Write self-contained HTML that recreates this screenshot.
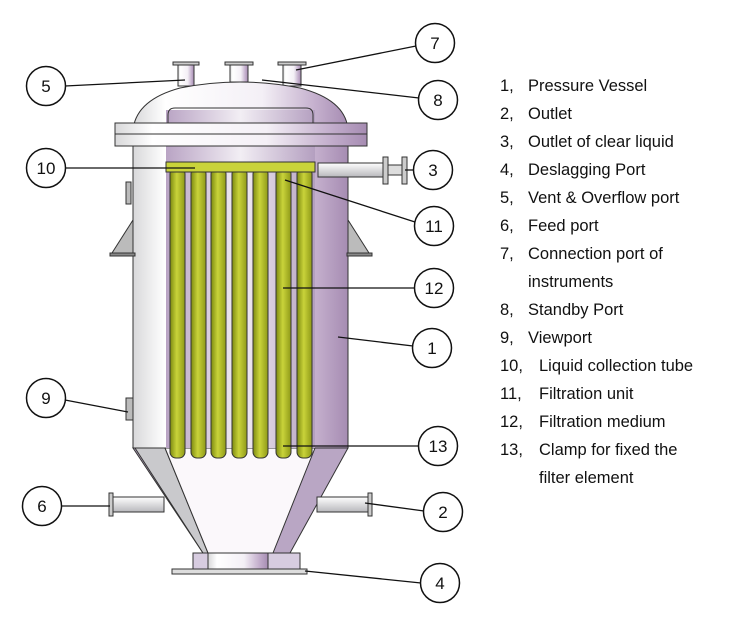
<!DOCTYPE html>
<html><head><meta charset="utf-8"><style>
body{margin:0;background:#fff;width:749px;height:625px;overflow:hidden;position:relative;font-family:"Liberation Sans",sans-serif}
.l{position:absolute;font-size:16.5px;color:#111;white-space:nowrap}
.n{position:absolute;left:500px}
</style></head><body>
<svg width="749" height="625" style="position:absolute;left:0;top:0">
<defs>
<linearGradient id="sh" x1="0" x2="1"><stop offset="0" stop-color="#d8d8da"/><stop offset="0.15" stop-color="#fff"/><stop offset="0.6" stop-color="#f4f0f6"/><stop offset="0.85" stop-color="#c4afcd"/><stop offset="1" stop-color="#a68cb2"/></linearGradient>
<linearGradient id="in" x1="0" x2="1"><stop offset="0" stop-color="#b9a4c4"/><stop offset="0.5" stop-color="#f2eef4"/><stop offset="1" stop-color="#b49fc0"/></linearGradient>
<linearGradient id="tb" x1="0" x2="1"><stop offset="0" stop-color="#7d8a10"/><stop offset="0.45" stop-color="#c9d33a"/><stop offset="1" stop-color="#8f9a18"/></linearGradient>
<linearGradient id="pp" x1="0" y1="0" x2="0" y2="1"><stop offset="0" stop-color="#fff"/><stop offset="1" stop-color="#b8b8bc"/></linearGradient>
</defs>
<g stroke="#333" stroke-width="1">
<rect x="178" y="64" width="16" height="22" fill="url(#sh)"/><rect x="173" y="62" width="26" height="3" fill="#ccc"/>
<rect x="230" y="64" width="18" height="18" fill="url(#sh)"/><rect x="225" y="62" width="28" height="3" fill="#ccc"/>
<rect x="283" y="64" width="18" height="22" fill="url(#sh)"/><rect x="278" y="62" width="28" height="3" fill="#ccc"/>
<path d="M133,150 L133,130 Q136,100 180,88 Q240,76 300,88 Q346,100 348,130 L348,150 Z" fill="url(#sh)"/>
<rect x="133" y="140" width="215" height="308" fill="url(#sh)"/>
<path d="M133,448 L348,448 L290,553 L203,553 Z" fill="#b9a6c4"/>
<path d="M135,448 L165,448 L208,553 L203,553 Z" fill="#c9c9cc"/>
<path d="M165,448 L315,448 L273,553 L208,553 Z" fill="#fbf8fb"/>
<rect x="193" y="553" width="107" height="20" fill="#d7cce0"/>
<rect x="208" y="553" width="60" height="20" fill="url(#sh)"/>
<rect x="172" y="569" width="135" height="5" fill="#ddd"/>
<rect x="166" y="110" width="149" height="338" fill="url(#in)" stroke="none"/>
<path d="M168,145 L168,115 Q168,108 175,108 L306,108 Q313,108 313,115 L313,145" fill="none"/>
<rect x="115" y="123" width="252" height="11" fill="url(#sh)"/>
<rect x="115" y="134" width="252" height="12" fill="url(#sh)"/>
<path d="M133,220 L133,253 L112,253 Z" fill="#bbb"/><rect x="110" y="253" width="25" height="3" fill="#888"/>
<path d="M348,220 L348,253 L369,253 Z" fill="#bbb"/><rect x="347" y="253" width="25" height="3" fill="#888"/>
<rect x="126" y="398" width="7" height="22" fill="#bbb"/>
<rect x="126" y="182" width="5" height="22" fill="#bbb"/>
<rect x="112" y="497" width="52" height="15" fill="url(#pp)"/><rect x="109" y="493" width="4" height="23" fill="#ccc"/>
<rect x="317" y="497" width="52" height="15" fill="url(#pp)"/><rect x="368" y="493" width="4" height="23" fill="#ccc"/>
<rect x="318" y="163" width="68" height="14" fill="url(#pp)"/><rect x="383" y="157" width="5" height="27" fill="#ccc"/><rect x="402" y="157" width="5" height="27" fill="#ccc"/><rect x="388" y="165" width="14" height="10" fill="#ddd"/>
<g fill="url(#tb)">
<rect x="170" y="168" width="15" height="290" rx="6"/>
<rect x="191" y="168" width="15" height="290" rx="6"/>
<rect x="211" y="168" width="15" height="290" rx="6"/>
<rect x="232" y="168" width="15" height="290" rx="6"/>
<rect x="253" y="168" width="15" height="290" rx="6"/>
<rect x="276" y="168" width="15" height="290" rx="6"/>
<rect x="297" y="168" width="15" height="290" rx="6"/>
</g>
<rect x="166" y="162" width="149" height="10" fill="#c9d33a"/>
</g>
<g stroke="#111" stroke-width="1.3" fill="none">
<path d="M65,86 L185,80"/><path d="M416,46 L296,70"/><path d="M419,98 L262,80"/>
<path d="M65,168 L195,168"/><path d="M414,170 L405,170"/><path d="M415,222 L285,180"/>
<path d="M415,288 L283,288"/><path d="M413,346 L338,337"/><path d="M65,400 L128,412"/>
<path d="M419,446 L283,446"/><path d="M60,506 L110,506"/><path d="M424,511 L365,503"/>
<path d="M421,583 L305,571"/>
</g>
<g stroke="#111" stroke-width="1.5" fill="#fff">
<circle cx="46" cy="86" r="19.5"/><circle cx="435" cy="43" r="19.5"/><circle cx="438" cy="100" r="19.5"/>
<circle cx="46" cy="168" r="19.5"/><circle cx="433" cy="170" r="19.5"/><circle cx="434" cy="226" r="19.5"/>
<circle cx="434" cy="288" r="19.5"/><circle cx="432" cy="348" r="19.5"/><circle cx="46" cy="398" r="19.5"/>
<circle cx="438" cy="446" r="19.5"/><circle cx="42" cy="506" r="19.5"/><circle cx="443" cy="512" r="19.5"/>
<circle cx="440" cy="583" r="19.5"/>
</g>
<g font-family="Liberation Sans,sans-serif" font-size="17" text-anchor="middle" fill="#111">
<text x="46" y="92">5</text><text x="435" y="49">7</text><text x="438" y="106">8</text>
<text x="46" y="174">10</text><text x="433" y="176">3</text><text x="434" y="232">11</text>
<text x="434" y="294">12</text><text x="432" y="354">1</text><text x="46" y="404">9</text>
<text x="438" y="452">13</text><text x="42" y="512">6</text><text x="443" y="518">2</text>
<text x="440" y="589">4</text>
</g>
</svg>
<div class="l" style="top:77px"><span class="n">1,</span><span style="position:absolute;left:528px">Pressure Vessel</span></div>
<div class="l" style="top:105px"><span class="n">2,</span><span style="position:absolute;left:528px">Outlet</span></div>
<div class="l" style="top:133px"><span class="n">3,</span><span style="position:absolute;left:528px">Outlet of clear liquid</span></div>
<div class="l" style="top:161px"><span class="n">4,</span><span style="position:absolute;left:528px">Deslagging Port</span></div>
<div class="l" style="top:189px"><span class="n">5,</span><span style="position:absolute;left:528px">Vent &amp; Overflow port</span></div>
<div class="l" style="top:217px"><span class="n">6,</span><span style="position:absolute;left:528px">Feed port</span></div>
<div class="l" style="top:245px"><span class="n">7,</span><span style="position:absolute;left:528px">Connection port of</span></div>
<div class="l" style="top:273px"><span style="position:absolute;left:528px">instruments</span></div>
<div class="l" style="top:301px"><span class="n">8,</span><span style="position:absolute;left:528px">Standby Port</span></div>
<div class="l" style="top:329px"><span class="n">9,</span><span style="position:absolute;left:528px">Viewport</span></div>
<div class="l" style="top:357px"><span class="n">10,</span><span style="position:absolute;left:539px">Liquid collection tube</span></div>
<div class="l" style="top:385px"><span class="n">11,</span><span style="position:absolute;left:539px">Filtration unit</span></div>
<div class="l" style="top:413px"><span class="n">12,</span><span style="position:absolute;left:539px">Filtration medium</span></div>
<div class="l" style="top:441px"><span class="n">13,</span><span style="position:absolute;left:539px">Clamp for fixed the</span></div>
<div class="l" style="top:469px"><span style="position:absolute;left:539px">filter element</span></div>
</body></html>
